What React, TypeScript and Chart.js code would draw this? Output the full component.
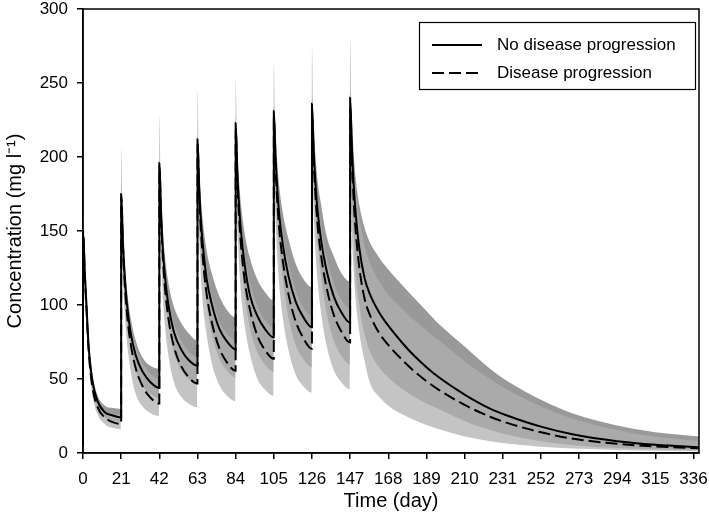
import React, { useEffect, useRef } from 'react';
import { Chart, registerables } from 'chart.js';

Chart.register(...registerables);

// Time points (day); peaks sit at the end of each short infusion (dose + 0.02 day)
const days = [0,
  0.02, 1, 2, 3, 5, 8, 12, 16, 21,
  21.02, 22, 23, 24, 26, 29, 33, 37, 42,
  42.02, 43, 44, 45, 47, 50, 54, 58, 63,
  63.02, 64, 65, 66, 68, 71, 75, 79, 84,
  84.02, 85, 86, 87, 89, 92, 96, 100, 105,
  105.02, 106, 107, 108, 110, 113, 117, 121, 126,
  126.02, 127, 128, 129, 131, 134, 138, 142, 147,
  147.02, 148, 149, 150, 152, 155, 158, 163, 168, 176, 182, 189, 196, 210, 224, 233, 252, 270, 294, 315, 340];

// Median concentration, no disease progression (solid)
const noProgression = [5,
  150, 122, 98, 74, 50, 35, 27.5, 25.5, 24,
  175, 142, 119, 103, 83, 66, 54.5, 48, 44,
  196, 162, 137, 121, 100, 82, 70, 63, 59,
  212, 178, 155, 140, 118, 100, 84, 75.7, 70,
  223, 188, 165, 149, 127, 106, 92.5, 84, 78,
  231, 199, 177, 161, 140.5, 120, 102.5, 92.3, 85,
  236, 203, 181, 165, 144, 123.5, 105.8, 95.4, 88,
  240, 206, 181, 163, 139, 118, 107, 95, 86, 74, 66, 58, 51, 39.5, 30, 25.5, 17.8, 12.5, 8, 5.6, 3.8];

// Median concentration, disease progression (dashed)
const progression = [5,
  150, 120, 95, 71, 46, 31, 24, 21, 19.6,
  174, 139, 113.5, 96.7, 75.6, 57.3, 44.6, 37.6, 33.4,
  194, 157, 131, 113, 91, 72, 58.8, 51.4, 47,
  209, 172, 147.6, 130.7, 107.7, 87.7, 70.9, 61.6, 55.5,
  219, 181.7, 156.8, 139.7, 116.4, 96.2, 79.1, 69.8, 63.6,
  226, 191.8, 168.4, 151.3, 129.5, 107.7, 89, 78.2, 70.4,
  230, 195.8, 172.5, 155.5, 133.7, 112, 93.3, 82.5, 74.7,
  233, 197, 170, 151, 126, 104, 93, 81, 73, 62.5, 55.5, 48.5, 42.5, 32.5, 24.5, 20.5, 14, 9.6, 6.2, 4.4, 3.2];

// Prediction interval, no disease progression (dark band)
const noProgUpper = [5,
  153, 130, 105, 80, 55, 39, 32, 30.5, 29.8,
  178, 152, 129, 113, 93, 76, 64, 59, 57,
  199, 174, 149, 134, 115, 99, 88, 81, 76,
  215, 192, 170, 156, 137, 121, 106, 97, 91.6,
  226, 204, 182, 167, 148, 131, 117, 109, 103,
  234, 216, 195, 180, 162, 145, 128, 118, 112,
  239, 221, 200, 185, 168, 147, 133, 122, 116,
  243, 225, 202, 186, 168, 152, 142, 132, 124, 113, 105, 96, 87, 72, 57, 49, 36, 26.5, 18.5, 14, 11];

const noProgLower = [5,
  140, 112, 90, 68, 45, 31, 24, 22, 21,
  160, 130, 108, 93, 73, 56, 45, 40, 37,
  180, 148, 124, 108, 87, 68, 56, 50, 46,
  195, 162, 140, 124, 101, 80, 64, 56, 51,
  205, 171, 148, 131, 107, 84, 68, 60, 55,
  212, 180, 157, 140, 117, 92, 73, 64, 58,
  217, 184, 160, 143, 120, 95, 76, 66, 60,
  215, 170, 145, 122, 100, 80, 68, 58, 51, 43, 38, 33.5, 29.5, 21.5, 15.5, 12.5, 8, 5.3, 3.4, 2.6, 2];

// Prediction interval, disease progression (light band)
const progUpper = [5,
  160, 126, 101, 77, 52, 36, 29, 26.5, 26,
  206, 150, 126, 110, 90, 72, 60, 53.5, 50,
  228, 168, 143, 126, 105, 88, 76, 69, 65,
  245, 184, 161, 145, 124, 106, 89, 81, 76,
  253, 195, 171, 155, 133, 115, 99, 90, 85,
  263, 206, 184, 168, 148, 128, 110, 99, 93,
  274, 210, 188, 172, 153, 133, 115, 104, 98,
  280, 218, 196, 180, 160, 140, 128, 116, 107, 97, 90, 83, 76, 62, 50, 43, 31.5, 23, 15.5, 11, 8];

const progLower = [5,
  135, 108, 86, 63, 40, 26, 19.5, 17, 16,
  150, 118, 93, 77, 57, 40, 31, 27, 25,
  165, 130, 104, 87, 66, 48, 38, 33.5, 31,
  175, 143, 117, 100, 80, 60, 46, 39, 35,
  182, 150, 125, 107, 86, 66, 50, 43, 38.6,
  188, 156, 131, 113, 91, 70, 53, 45.5, 40.8,
  192, 160, 135, 117, 95, 73, 56, 48, 43,
  195, 148, 122, 104, 82, 62, 47, 38, 32, 26, 22.5, 19, 16, 11.2, 8, 6.5, 4.3, 3, 2, 1.5, 1.1];

const xTicks = [0, 21, 42, 63, 84, 105, 126, 147, 168, 189, 210, 231, 252, 273, 294, 315, 336];
const yTicks = [0, 50, 100, 150, 200, 250, 300];
const seriesLabels = ['No disease progression', 'Disease progression'];

const FONT = "'Liberation Sans', Arial, Helvetica, sans-serif";

const framePlugin = {
  id: 'frame',
  afterDatasetsDraw(chart: any) {
    const { ctx, chartArea: a } = chart;
    ctx.save();
    ctx.strokeStyle = '#000';
    ctx.lineWidth = 1.5;
    ctx.strokeRect(a.left, a.top, a.right - a.left, a.bottom - a.top);
    ctx.restore();
  },
};

const legendPlugin = {
  id: 'boxLegend',
  afterDraw(chart: any) {
    const { ctx, chartArea: a } = chart;
    const w = 276;
    const h = 67;
    const right = a.right - 4;
    const top = a.top + 13;
    const left = right - w;
    ctx.save();
    ctx.fillStyle = '#fff';
    ctx.fillRect(left, top, w, h);
    ctx.strokeStyle = '#000';
    ctx.lineWidth = 1.2;
    ctx.strokeRect(left + 0.5, top + 0.5, w, h);
    chart.data.datasets.slice(0, 2).forEach((ds: any, i: number) => {
      const y = top + 23 + i * 28;
      ctx.beginPath();
      ctx.setLineDash(ds.borderDash || []);
      ctx.lineWidth = 2;
      ctx.strokeStyle = '#000';
      ctx.moveTo(left + 13, y);
      ctx.lineTo(left + 63, y);
      ctx.stroke();
      ctx.setLineDash([]);
      ctx.fillStyle = '#000';
      ctx.font = `17px ${FONT}`;
      ctx.textBaseline = 'middle';
      ctx.textAlign = 'left';
      ctx.fillText(ds.label, left + 78, y);
    });
    ctx.restore();
  },
};

export default function App() {
  const ref = useRef<HTMLCanvasElement>(null);

  useEffect(() => {
    if (!ref.current) return;
    const pts = (vals: number[]) => days.map((d, i) => ({ x: d, y: vals[i] }));
    const band = {
      pointRadius: 0,
      borderColor: 'rgba(0,0,0,0)',
      borderWidth: 0,
      cubicInterpolationMode: 'monotone' as const,
    };
    const chart = new Chart(ref.current, {
      type: 'line',
      data: {
        datasets: [
          {
            label: seriesLabels[0],
            data: pts(noProgression),
            borderColor: '#000',
            borderWidth: 2,
            pointRadius: 0,
            fill: false,
            cubicInterpolationMode: 'monotone',
            order: 0,
          },
          {
            label: seriesLabels[1],
            data: pts(progression),
            borderColor: '#000',
            borderWidth: 2,
            borderDash: [12, 5],
            pointRadius: 0,
            fill: false,
            cubicInterpolationMode: 'monotone',
            order: 1,
          },
          { label: 'progUpper', data: pts(progUpper), fill: '+1', backgroundColor: 'rgba(176,176,176,0.75)', ...band, order: 2 },
          { label: 'progLower', data: pts(progLower), fill: false, ...band, order: 2 },
          { label: 'noProgUpper', data: pts(noProgUpper), fill: '+1', backgroundColor: 'rgb(153,153,153)', ...band, order: 3 },
          { label: 'noProgLower', data: pts(noProgLower), fill: false, ...band, order: 3 },
        ] as any,
      },
      options: {
        animation: false,
        responsive: false,
        events: [],
        layout: { padding: { top: 9, right: 10, left: 0, bottom: 0 } },
        plugins: { legend: { display: false }, tooltip: { enabled: false } },
        scales: {
          x: {
            type: 'linear',
            min: 0,
            max: 339,
            afterBuildTicks: (s: any) => {
              s.ticks = xTicks.map((v) => ({ value: v }));
            },
            afterFit: (s: any) => {
              s.height = 65;
              s.paddingLeft = 0;
              s.paddingRight = 0;
            },
            grid: { display: true, drawOnChartArea: false, drawTicks: true, tickLength: 6, color: '#000', lineWidth: 1.5 },
            border: { display: true, color: '#000', width: 1.5 },
            ticks: { color: '#000', font: { family: FONT, size: 17 }, padding: 10, maxRotation: 0, autoSkip: false },
            title: { display: true, text: 'Time (day)', color: '#000', font: { family: FONT, size: 20 }, padding: { top: 0, bottom: 5 } },
          },
          y: {
            type: 'linear',
            min: 0,
            max: 300,
            afterBuildTicks: (s: any) => {
              s.ticks = yTicks.map((v) => ({ value: v }));
            },
            afterFit: (s: any) => {
              s.width = 83;
              s.paddingTop = 0;
              s.paddingBottom = 0;
            },
            grid: { display: true, drawOnChartArea: false, drawTicks: true, tickLength: 6, color: '#000', lineWidth: 1.5 },
            border: { display: true, color: '#000', width: 1.5 },
            ticks: { color: '#000', font: { family: FONT, size: 17 }, padding: 9 },
            title: { display: true, text: 'Concentration (mg l\u207B\u00B9)', color: '#000', font: { family: FONT, size: 20 }, padding: { top: 3, bottom: 0 } },
          },
        },
      } as any,
      plugins: [framePlugin, legendPlugin],
    });
    return () => chart.destroy();
  }, []);

  return (
    <div style={{ position: 'absolute', left: 0, top: 0, width: 709, height: 518, background: '#fff' }}>
      <canvas ref={ref} width={709} height={518} />
    </div>
  );
}
